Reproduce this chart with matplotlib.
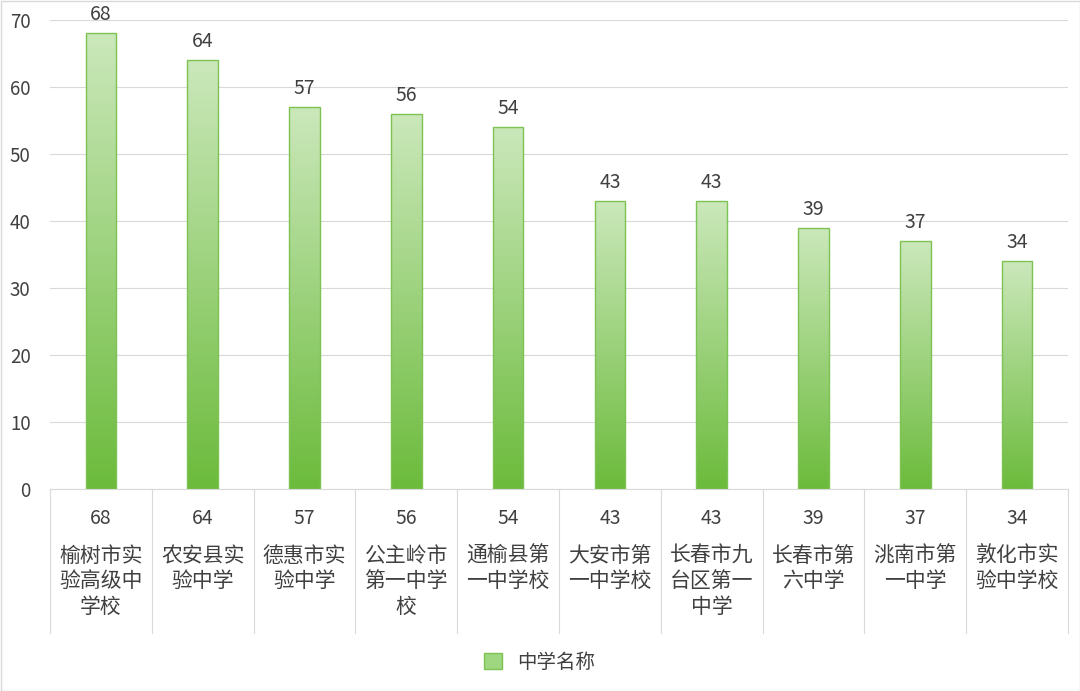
import matplotlib
matplotlib.use("Agg")
import matplotlib.pyplot as plt
import numpy as np
from matplotlib.colors import LinearSegmentedColormap
from matplotlib.patches import Rectangle, Patch
import matplotlib.transforms as mtransforms

plt.rcParams['font.family'] = ['Noto Sans CJK SC', 'DejaVu Sans']

schools = ["榆树市实验高级中学校", "农安县实验中学", "德惠市实验中学", "公主岭市第一中学校",
           "通榆县第一中学校", "大安市第一中学校", "长春市九台区第一中学", "长春市第六中学",
           "洮南市第一中学", "敦化市实验中学校"]
values = [68, 64, 57, 56, 54, 43, 43, 39, 37, 34]
series_name = "中学名称"

fig = plt.figure(figsize=(10.8, 6.91), dpi=100)
W, H = 1080, 691
ax = fig.add_axes([50/W, 1-489/H, (1068-50)/W, (489-20)/H])
n = len(values)
ax.set_xlim(-0.5, n-0.5)
ax.set_ylim(0, 70)
ax.set_yticks(range(0, 71, 10))
ax.tick_params(axis='y', length=0, labelsize=13.5, colors='#404040', pad=14)
ax.set_xticks([])
ax.grid(axis='y', color='#d9d9d9', lw=0.8)
ax.set_axisbelow(True)
for s in ['top', 'right', 'left']:
    ax.spines[s].set_visible(False)
ax.spines['bottom'].set_color('#d9d9d9')

cmap = LinearSegmentedColormap.from_list('g', ['#6cbb3c', '#cbe8bb'])
grad = np.linspace(0, 1, 256).reshape(-1, 1)
bw = 0.3
for i, v in enumerate(values):
    rect = Rectangle((i-bw/2, 0), bw, v, facecolor='none', edgecolor='#7cc353', lw=1, zorder=3)
    ax.add_patch(rect)
    im = ax.imshow(grad, extent=(i-bw/2, i+bw/2, 0, v), origin='lower', cmap=cmap,
                   aspect='auto', zorder=2)
    im.set_clip_path(rect)
    ax.text(i, v+1.2, str(v), ha='center', va='bottom', fontsize=14, color='#404040')
ax.set_xlim(-0.5, n-0.5)
ax.set_ylim(0, 70)

trans = mtransforms.blended_transform_factory(ax.transData, fig.transFigure)
for i in range(n+1):
    ax.plot([i-0.5, i-0.5], [1-489/H, 1-633/H], transform=trans, color='#d9d9d9',
            lw=0.8, clip_on=False)
for i, (s, v) in enumerate(zip(schools, values)):
    ax.text(i, 1-518/H, str(v), transform=trans, ha='center', va='center', fontsize=14, color='#404040')
    lines = "\n".join(s[k:k+4] for k in range(0, len(s), 4))
    ax.text(i, 1-545/H, lines, transform=trans, ha='center', va='top', fontsize=15,
            color='#404040', linespacing=1.2)

fig.legend(handles=[Patch(facecolor='#9fd680', edgecolor='#7cc353', label=series_name)],
           loc='center', bbox_to_anchor=(540/W, 1-662/H), frameon=False, fontsize=14,
           handlelength=0.9, handleheight=0.9, labelcolor='#404040')
fig.patches.append(Rectangle((0.5/W, 0.5/H), 1-1/W, 1-1/H, transform=fig.transFigure,
                             fill=False, edgecolor='#d9d9d9', lw=1))
fig.savefig("out.png", dpi=100)
